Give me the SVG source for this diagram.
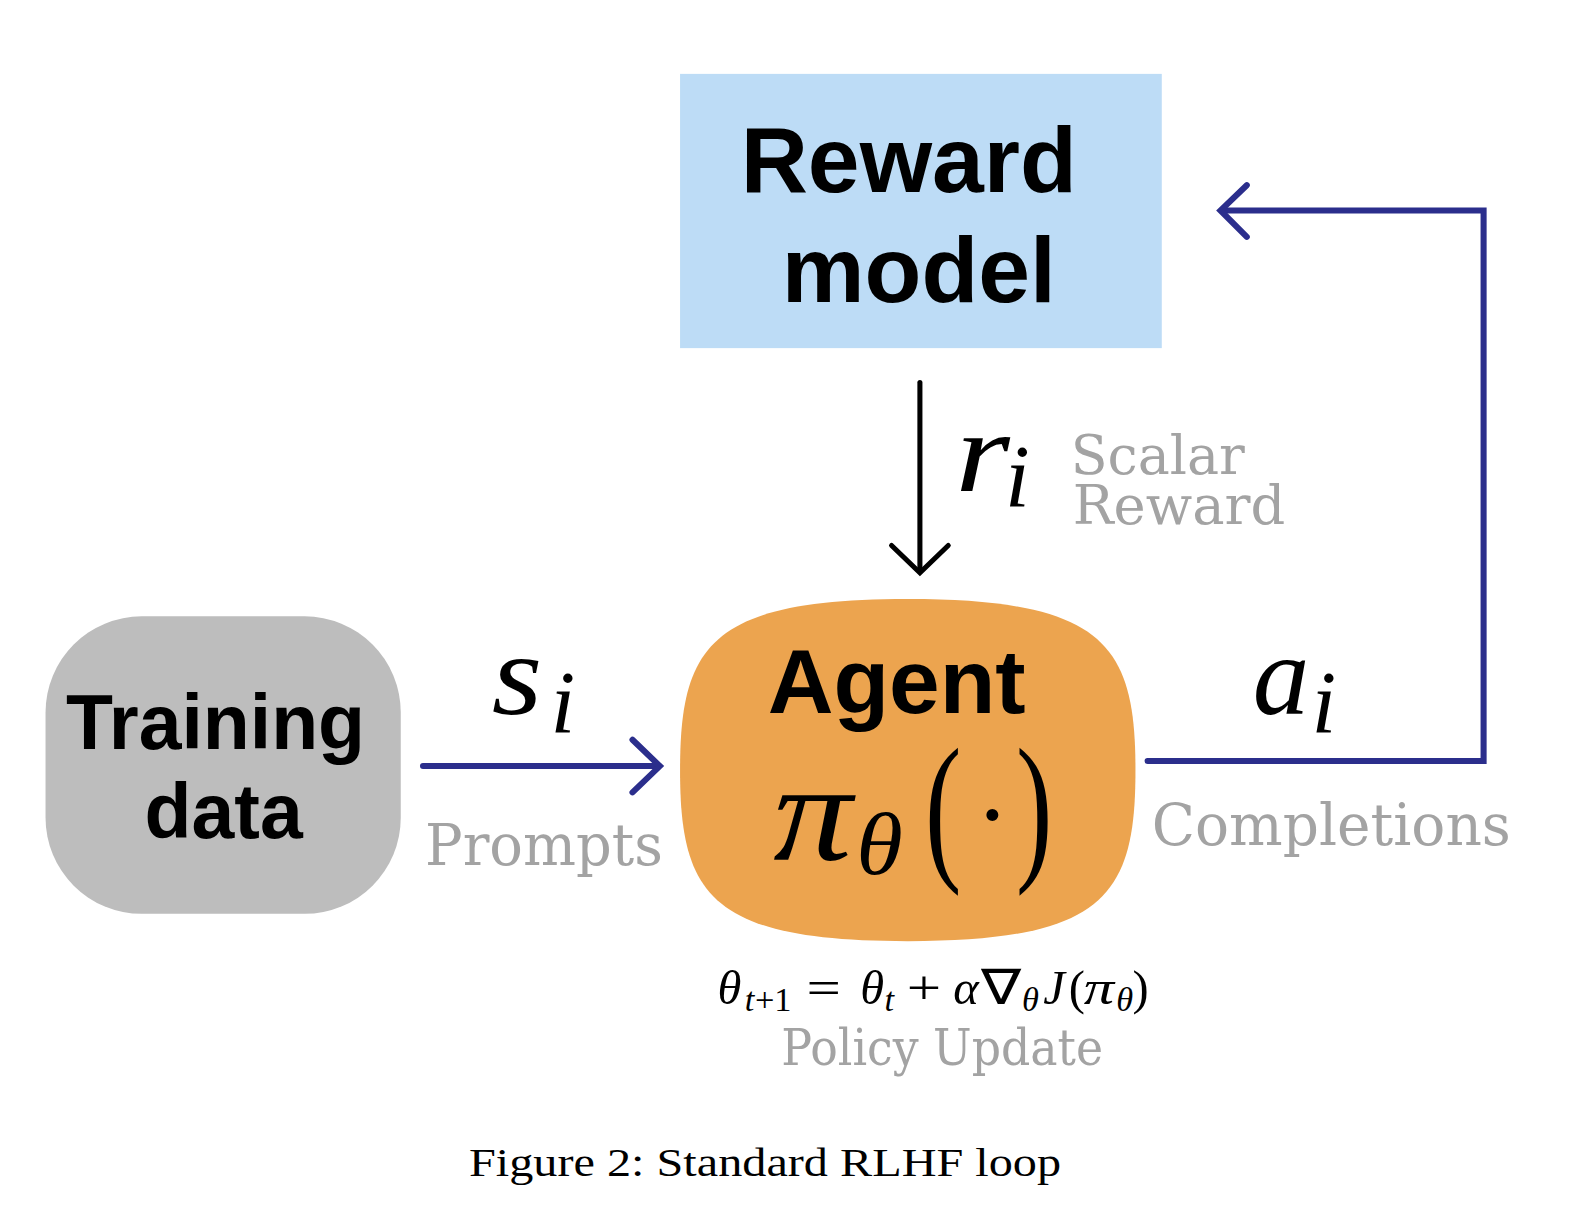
<svg xmlns="http://www.w3.org/2000/svg" width="1586" height="1214" viewBox="0 0 1586 1214">
<style>
.bold{font-family:"Liberation Sans",Arial,sans-serif;font-weight:bold;fill:#000}
.math{font-family:"Liberation Serif","Times New Roman",serif;font-style:italic;fill:#000}
.rm{font-family:"Liberation Serif","Times New Roman",serif;fill:#000}
.lbl{font-family:"DejaVu Serif","Noto Serif",serif;fill:#a3a3a3}
.blue{fill:none;stroke:#2b2e8c;stroke-width:6;stroke-linecap:round;stroke-linejoin:miter}
.blk{fill:none;stroke:#000;stroke-width:5;stroke-linecap:round}
</style>
<rect width="1586" height="1214" fill="#fff"/>
<g transform="scale(1.012)">
<g id="reward-model">
<rect x="672" y="73" width="476" height="271" fill="#bddcf6"/>
<text class="bold" x="898" y="190" font-size="92" text-anchor="middle">Reward</text>
<text class="bold" x="908" y="298" font-size="92" text-anchor="middle">model</text>
</g>
<g id="training-data">
<rect x="45" y="609" width="351" height="294" rx="95" ry="95" fill="#bdbdbd"/>
<text class="bold" x="213" y="740" font-size="76" text-anchor="middle">Training</text>
<text class="bold" x="221" y="828" font-size="76" text-anchor="middle">data</text>
</g>
<g id="agent">
<path d="M897,592 C1092,592 1122,638 1122,761 C1122,884 1092,930 897,930 C702,930 672,884 672,761 C672,638 702,592 897,592 Z" fill="#eca44f"/>
<text class="bold" x="886" y="705" font-size="90" text-anchor="middle">Agent</text>
<text class="math" x="764" y="850" font-size="138" textLength="78" lengthAdjust="spacingAndGlyphs">π</text>
<text class="math" x="846" y="864" font-size="88" textLength="46" lengthAdjust="spacingAndGlyphs">θ</text>
<text class="rm"><tspan x="914" y="851" font-size="162" textLength="36" lengthAdjust="spacingAndGlyphs">(</tspan><tspan x="964" y="839" font-size="100">·</tspan><tspan x="1004" y="851" font-size="162" textLength="36" lengthAdjust="spacingAndGlyphs">)</tspan></text>
</g>
<g id="connectors">
<line class="blk" x1="909" y1="378" x2="909" y2="564"/>
<polyline class="blk" points="881,539 909,566 937,539"/>
<line class="blue" x1="418" y1="757" x2="650" y2="757"/>
<polyline class="blue" points="625,731 652,757 625,783"/>
<polyline class="blue" points="1134,752 1466,752 1466,208 1207,208" stroke-linecap="butt"/>
<polyline class="blue" points="1232,183 1206,208 1232,234"/>
</g>
<g id="labels">
<text class="math" x="486" y="706" font-size="116" textLength="50" lengthAdjust="spacingAndGlyphs">s</text>
<text class="math" x="544" y="723" font-size="88">i</text>
<text class="lbl" x="420" y="855" font-size="58" textLength="235" lengthAdjust="spacingAndGlyphs">Prompts</text>
<text class="math" x="944" y="485" font-size="112" textLength="54" lengthAdjust="spacingAndGlyphs">r</text>
<text class="math" x="993" y="500" font-size="88">i</text>
<text class="lbl" font-size="54"><tspan x="1058" y="468" textLength="172" lengthAdjust="spacingAndGlyphs">Scalar</tspan><tspan x="1060" y="518" textLength="210" lengthAdjust="spacingAndGlyphs">Reward</tspan></text>
<text class="math" x="1238" y="706" font-size="114" textLength="56" lengthAdjust="spacingAndGlyphs">a</text>
<text class="math" x="1296" y="723" font-size="88">i</text>
<text class="lbl" x="1138" y="835" font-size="58" textLength="355" lengthAdjust="spacingAndGlyphs">Completions</text>
<text class="lbl" x="772" y="1052" font-size="50" textLength="318" lengthAdjust="spacingAndGlyphs">Policy Update</text>
</g>
<g id="formula">
<text class="math" x="709" y="992" font-size="48">θ</text>
<text class="math" x="736" y="999" font-size="34">t</text>
<text class="rm" x="746" y="999" font-size="34">+1</text>
<text class="rm" x="797" y="992" font-size="48" textLength="34" lengthAdjust="spacingAndGlyphs">=</text>
<text class="math" x="850" y="992" font-size="48">θ</text>
<text class="math" x="874" y="999" font-size="34">t</text>
<text class="rm" x="896" y="992" font-size="48" textLength="34" lengthAdjust="spacingAndGlyphs">+</text>
<text class="math" x="942" y="992" font-size="48">α</text>
<text class="rm" x="969" y="992" font-size="48" textLength="40" lengthAdjust="spacingAndGlyphs">∇</text>
<text class="math" x="1010" y="999" font-size="34">θ</text>
<text class="math" x="1031" y="992" font-size="48">J</text>
<text class="rm" x="1056" y="992" font-size="48">(</text>
<text class="math" x="1071" y="992" font-size="48" textLength="30" lengthAdjust="spacingAndGlyphs">π</text>
<text class="math" x="1103" y="999" font-size="34">θ</text>
<text class="rm" x="1119" y="992" font-size="48">)</text>
</g>
<text class="rm" x="756" y="1162" font-size="40" text-anchor="middle" textLength="585" lengthAdjust="spacingAndGlyphs">Figure 2: Standard RLHF loop</text>
</g>
</svg>
